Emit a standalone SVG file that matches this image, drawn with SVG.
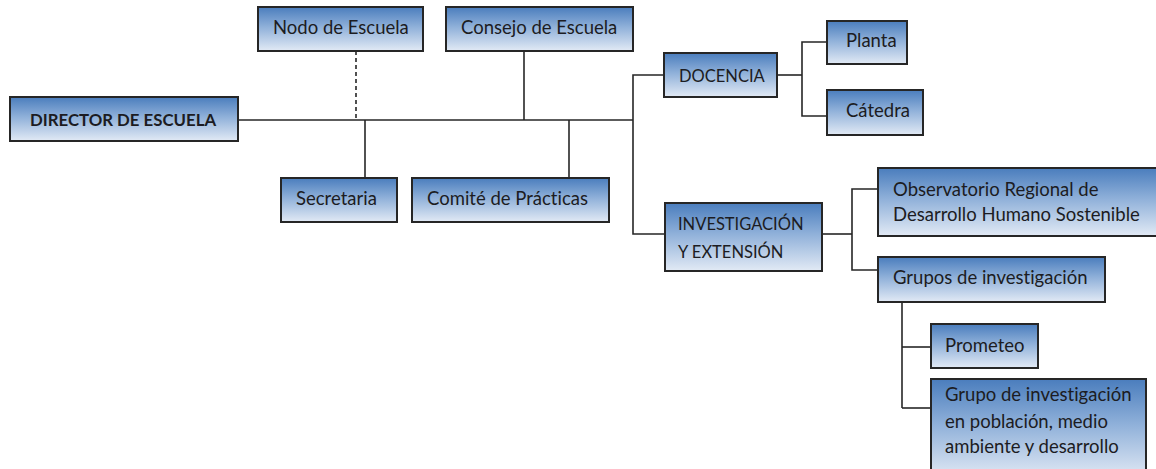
<svg xmlns="http://www.w3.org/2000/svg" width="1156" height="469" viewBox="0 0 1156 469">
  <defs>
    <linearGradient id="boxGrad" x1="0" y1="0" x2="0" y2="1">
      <stop offset="0" stop-color="#4a7dbd"/>
      <stop offset="0.45" stop-color="#8fb0d9"/>
      <stop offset="1" stop-color="#e2eaf5"/>
    </linearGradient>
  </defs>
  <style>
    .box { fill: url(#boxGrad); stroke: #262626; stroke-width: 2; }
    .lbl { font-family: Lato, "Liberation Sans", sans-serif; font-size: 18.5px; fill: #1c1c22; font-variant-ligatures: none; }
    .caps { font-size: 16.5px; }
    .bold { font-weight: bold; font-size: 16.8px; }
    .conn { stroke: #262626; stroke-width: 1.6; fill: none; }
    .dash { stroke-dasharray: 4 3; }
  </style>
  <rect width="1156" height="469" fill="#ffffff"/>

  <g id="connectors">
    <line class="conn" x1="238" y1="120" x2="633" y2="120"/>
    <line class="conn dash" x1="356" y1="51" x2="356" y2="120"/>
    <line class="conn" x1="365" y1="120" x2="365" y2="178"/>
    <line class="conn" x1="524" y1="51" x2="524" y2="120"/>
    <line class="conn" x1="569" y1="120" x2="569" y2="178"/>
    <polyline class="conn" points="664,75 633,75 633,234 665,234"/>
    <line class="conn" x1="777" y1="75" x2="802" y2="75"/>
    <polyline class="conn" points="827,42 802,42 802,116 827,116"/>
    <line class="conn" x1="822" y1="234" x2="852" y2="234"/>
    <polyline class="conn" points="878,189 852,189 852,270 878,270"/>
    <line class="conn" x1="902" y1="302" x2="902" y2="408"/>
    <line class="conn" x1="902" y1="347" x2="931" y2="347"/>
    <line class="conn" x1="902" y1="408" x2="931" y2="408"/>
  </g>

  <g id="director">
    <rect class="box" x="10" y="97" width="228" height="44"/>
    <text class="lbl bold" x="30" y="126">DIRECTOR DE ESCUELA</text>
  </g>
  <g id="nodo">
    <rect class="box" x="258" y="7" width="165" height="44"/>
    <text class="lbl" x="273" y="34">Nodo de Escuela</text>
  </g>
  <g id="consejo">
    <rect class="box" x="446" y="7" width="187" height="44"/>
    <text class="lbl" x="461" y="34">Consejo de Escuela</text>
  </g>
  <g id="secretaria">
    <rect class="box" x="281" y="178" width="116" height="44"/>
    <text class="lbl" x="296" y="205">Secretaria</text>
  </g>
  <g id="comite">
    <rect class="box" x="412" y="178" width="197" height="44"/>
    <text class="lbl" x="427" y="205">Comité de Prácticas</text>
  </g>
  <g id="docencia">
    <rect class="box" x="664" y="53" width="113" height="44"/>
    <text class="lbl caps" x="679" y="82">DOCENCIA</text>
  </g>
  <g id="planta">
    <rect class="box" x="827" y="21" width="80" height="43"/>
    <text class="lbl" x="846" y="47">Planta</text>
  </g>
  <g id="catedra">
    <rect class="box" x="827" y="90" width="96" height="45"/>
    <text class="lbl" x="846" y="117">Cátedra</text>
  </g>
  <g id="investigacion">
    <rect class="box" x="665" y="203" width="157" height="68"/>
    <text class="lbl caps" x="678" y="230">INVESTIGACIÓN</text>
    <text class="lbl caps" x="678" y="258">Y EXTENSIÓN</text>
  </g>
  <g id="observatorio">
    <rect class="box" x="878" y="168" width="284" height="68"/>
    <text class="lbl" x="893" y="196">Observatorio Regional de</text>
    <text class="lbl" x="893" y="221">Desarrollo Humano Sostenible</text>
  </g>
  <g id="grupos">
    <rect class="box" x="878" y="257" width="227" height="45"/>
    <text class="lbl" x="893" y="284">Grupos de investigación</text>
  </g>
  <g id="prometeo">
    <rect class="box" x="931" y="324" width="107" height="44"/>
    <text class="lbl" x="945" y="352">Prometeo</text>
  </g>
  <g id="grupo-poblacion">
    <rect class="box" x="931" y="379" width="215" height="100"/>
    <text class="lbl" x="945" y="401">Grupo de investigación</text>
    <text class="lbl" x="945" y="428">en población, medio</text>
    <text class="lbl" x="945" y="453">ambiente y desarrollo</text>
  </g>
</svg>
